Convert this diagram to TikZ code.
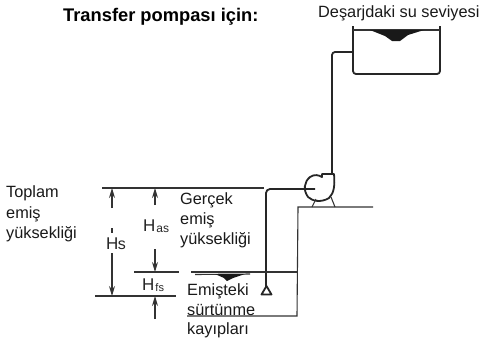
\documentclass[tikz,border=0pt]{standalone}
\usepackage{fontspec}
\setmainfont{Liberation Sans}
\usetikzlibrary{arrows.meta}
\tikzset{
  heavy/.style={draw=black!85,line width=1.8pt,line join=round},
  thin line/.style={draw=black!80,line width=1.1pt},
  dim/.style={draw=black!80,line width=1.1pt},
  tip/.style={-{Stealth[length=10pt,width=6pt]}},
  lab/.style={anchor=west,inner sep=0pt,font=\fontsize{16.3}{16.3}\selectfont,text=black!90},
  hlab/.style={anchor=west,inner sep=0pt,font=\fontsize{17}{17}\selectfont,text=black!85}
}
\begin{document}
\begin{tikzpicture}[x=1pt,y=-1pt]
\useasboundingbox (0,0) rectangle (481,341);
% texts
\node[anchor=west,inner sep=0pt,font=\bfseries\fontsize{18.3}{18.3}\selectfont] (title) at (63,17) {Transfer pompası için:};
\node[lab] (dis) at (318,13) {Deşarjdaki su seviyesi};
\node[lab] (t1) at (6,193) {Toplam};
\node[lab] (t2) at (6,214) {emiş};
\node[lab] (t3) at (6,234) {yüksekliği};
\node[lab] (g1) at (180,200) {Gerçek};
\node[lab] (g2) at (180,220) {emiş};
\node[lab] (g3) at (180,240) {yüksekliği};
\node[lab] (e1) at (187,291) {Emişteki};
\node[lab] (e2) at (187,310) {sürtünme};
\node[lab] (e3) at (187,330) {kayıpları};
\node[hlab] (hs) at (106,244) {H\kern-.5pt\fontsize{16}{16}\selectfont s};
\node[hlab] (has) at (143,226) {H\kern1pt\raisebox{-1pt}{\fontsize{12}{12}\selectfont as}};
\node[hlab] (hfs) at (142,285) {H\kern1pt\raisebox{-1pt}{\fontsize{11}{11}\selectfont fs}};
% tank
\draw[heavy,rounded corners=3pt] (353,26) -- (353,74) -- (440,74) -- (440,26);
\draw[thin line] (353,30) -- (440,30);
\fill[black!90] (370,30) -- (424,30) -- (408,35) -- (400,41) -- (392,41) -- (385,36) -- cycle;
% discharge pipe
\draw[heavy,rounded corners=3pt] (353,52) -- (332,52) -- (332,173);
% pump
\draw[heavy] (322,174) -- (334,174) .. controls (335,186) and (334,193) .. (329,198) .. controls (321,203) and (312,201) .. (308,197) .. controls (303,190) and (304,182) .. (310,177) .. controls (314,174) and (319,175) .. (322,177) -- cycle;
\draw[thin line] (312,207) -- (316,199) (335,207) -- (331,197);
% suction pipe
\draw[heavy,rounded corners=4pt] (315,189) -- (266,189) -- (266,287);
\draw[heavy,fill=white] (266.5,286) -- (261.5,294.5) -- (271.5,294.5) -- cycle;
% ground
\draw[thin line] (373,207) -- (298,207) -- (297,316) -- (187,316);
% levels
\coordinate (top1) at (102,188);
\coordinate (top2) at (264,188);
\draw[dim] (top1) -- (top2);
\draw[dim] (134,272) -- (179,272);
\draw[dim] (191,272) -- (297,272);
\draw[dim] (195,274.5) -- (250,274);
\fill[black!90] (215,274) -- (245,274) -- (233,278) -- (227,281) -- (224,278) -- cycle;
\draw[dim] (95,296) -- (176,296);
% dimension arrows
\draw[dim,tip] (112,208) -- (112,188);
\draw[dim] (112,228) -- (112,233);
\draw[dim,tip] (112,253) -- (112,296);
\draw[dim,tip] (155,205) -- (155,188);
\draw[dim,tip] (155,249) -- (155,272);
\draw[dim,tip] (155,319) -- (155,296);
\end{tikzpicture}
\end{document}
